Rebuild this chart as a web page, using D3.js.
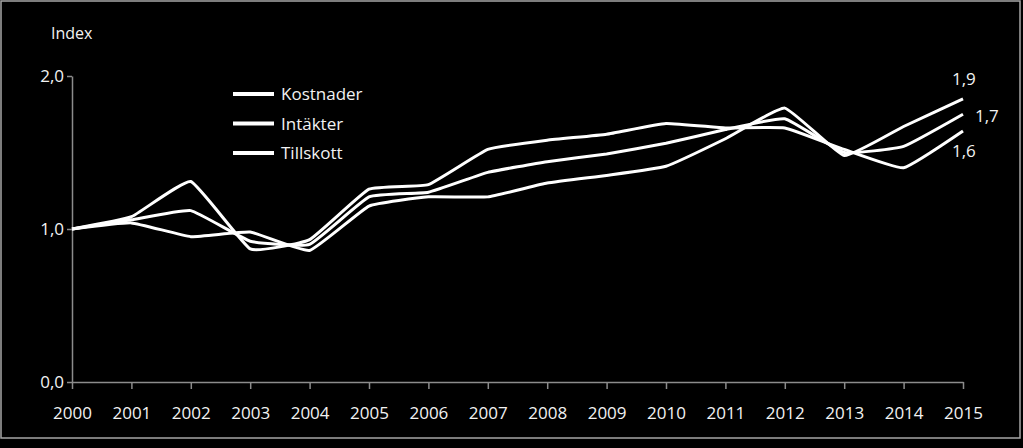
<!DOCTYPE html>
<html>
<head>
    <meta charset="utf-8">
    <title>Index</title>
    <script src="https://cdn.jsdelivr.net/npm/d3@7/dist/d3.min.js"></script>
    <style>
        html, body { margin: 0; padding: 0; background: #000; }
        svg { display: block; }
        text { font-family: "Open Sans", sans-serif; fill: #f2f2f2; }
    </style>
</head>
<body>
<div id="chart"></div>
<script>
    // data
    var years = [2000, 2001, 2002, 2003, 2004, 2005, 2006, 2007, 2008, 2009, 2010, 2011, 2012, 2013, 2014, 2015];
    var kostnader = [1.00, 1.04, 0.95, 0.98, 0.86, 1.15, 1.21, 1.21, 1.30, 1.35, 1.41, 1.59, 1.79, 1.48, 1.67, 1.85];
    var intakter  = [1.00, 1.06, 1.12, 0.92, 0.90, 1.21, 1.24, 1.37, 1.44, 1.49, 1.56, 1.65, 1.72, 1.50, 1.54, 1.75];
    var tillskott = [1.00, 1.08, 1.31, 0.87, 0.93, 1.26, 1.29, 1.52, 1.58, 1.62, 1.69, 1.66, 1.66, 1.52, 1.40, 1.64];
    var seriesNames = ["Kostnader", "Intäkter", "Tillskott"];
    var endLabels = ["1,9", "1,7", "1,6"];
    var yTicks = [0, 1, 2];

    var width = 1023, height = 448;
    var x = d3.scaleLinear().domain([2000, 2015]).range([72, 963]);
    var y = d3.scaleLinear().domain([0, 2]).range([382, 76]);

    var svg = d3.select("#chart").append("svg")
        .attr("width", width)
        .attr("height", height);

    svg.append("rect")
        .attr("x", 0).attr("y", 0)
        .attr("width", width).attr("height", height)
        .attr("fill", "#000");

    // frame
    svg.append("rect")
        .attr("x", 1).attr("y", 1)
        .attr("width", 1019).attr("height", 437)
        .attr("fill", "none")
        .attr("stroke", "#a6a6a6")
        .attr("stroke-width", 1.5);

    var fmt = function (d) { return d.toFixed(1).replace(".", ","); };

    // y axis
    var yAxis = svg.append("g")
        .attr("transform", "translate(" + x(2000) + ",0)")
        .call(d3.axisLeft(y).tickValues(yTicks).tickFormat(fmt).tickSize(5).tickSizeOuter(0).tickPadding(3));
    yAxis.selectAll("path, line").attr("stroke", "#8c8c8c").attr("stroke-width", 1.5);
    yAxis.selectAll("text").style("font-size", "17px").attr("fill", "#f2f2f2");

    // x axis
    var xAxis = svg.append("g")
        .attr("transform", "translate(0," + y(0) + ")")
        .call(d3.axisBottom(x).tickValues(years).tickFormat(d3.format("d")).tickSize(7).tickSizeOuter(0).tickPadding(18));
    xAxis.selectAll("path, line").attr("stroke", "#8c8c8c").attr("stroke-width", 1.5);
    xAxis.selectAll("text").style("font-size", "17px").attr("fill", "#f2f2f2");

    svg.append("text")
        .attr("x", 51).attr("y", 39)
        .style("font-size", "16px")
        .text("Index");

    // lines
    var line = d3.line()
        .x(function (d, i) { return x(years[i]); })
        .y(function (d) { return y(d); })
        .curve(d3.curveCardinal.tension(0.65));

    var allSeries = [kostnader, intakter, tillskott];
    svg.selectAll(".serie")
        .data(allSeries)
        .enter()
        .append("path")
        .attr("class", "serie")
        .attr("d", line)
        .attr("fill", "none")
        .attr("stroke", "#fff")
        .attr("stroke-width", 3)
        .attr("stroke-linejoin", "round");

    // end labels
    var endPos = [[952, 85], [975, 122], [952, 157]];
    svg.selectAll(".endlabel")
        .data(endLabels)
        .enter()
        .append("text")
        .attr("class", "endlabel")
        .attr("x", function (d, i) { return endPos[i][0]; })
        .attr("y", function (d, i) { return endPos[i][1]; })
        .style("font-size", "17px")
        .text(function (d) { return d; });

    // legend
    var legend = svg.selectAll(".legend")
        .data(seriesNames)
        .enter()
        .append("g")
        .attr("class", "legend")
        .attr("transform", function (d, i) { return "translate(233," + (94 + i * 29.5) + ")"; });
    legend.append("line")
        .attr("x1", 0).attr("x2", 41)
        .attr("y1", 0).attr("y2", 0)
        .attr("stroke", "#fff")
        .attr("stroke-width", 4);
    legend.append("text")
        .attr("x", 48).attr("y", 6)
        .style("font-size", "17px")
        .text(function (d) { return d; });
</script>
</body>
</html>
